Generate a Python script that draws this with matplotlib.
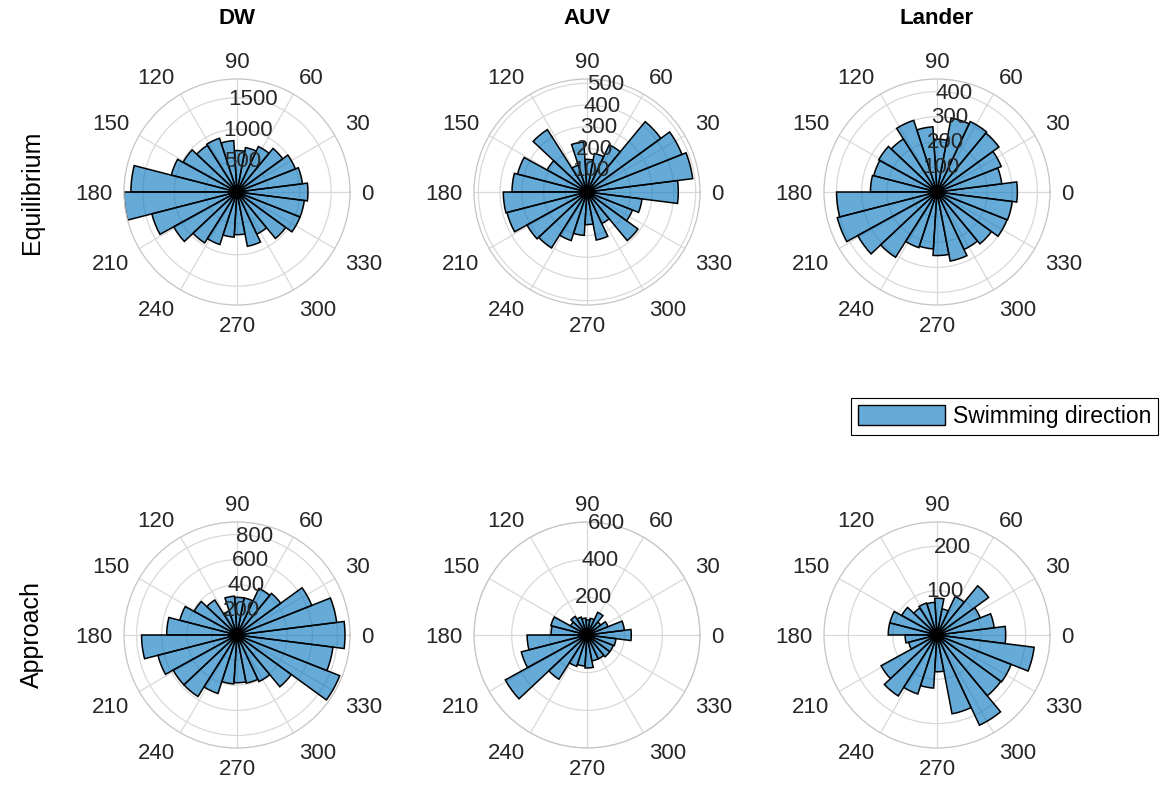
import numpy as np
import matplotlib.pyplot as plt
from matplotlib.patches import Patch

plt.rcParams['font.family'] = ['Liberation Sans', 'DejaVu Sans']

# 25 bins of 14.4 deg, centres from 0 going counter-clockwise
bin_centres = np.arange(25) * 14.4
bin_width = 14.4

columns = ['DW', 'AUV', 'Lander']
rows = ['Equilibrium', 'Approach']

dw_eq = [1130, 1050, 1000, 900, 800, 720, 660, 820, 900, 880, 980, 1080, 1690,
         1800, 1400, 1150, 960, 880, 720, 680, 880, 740, 960, 1080, 1080]
auv_eq = [420, 490, 470, 420, 240, 180, 150, 230, 130, 340, 210, 330, 345,
          385, 380, 315, 305, 235, 200, 150, 225, 160, 290, 225, 255]
lander_eq = [320, 260, 275, 305, 310, 300, 210, 260, 300, 250, 265, 260, 265,
             400, 410, 360, 308, 233, 227, 253, 280, 253, 268, 300, 302]
dw_ap = [860, 800, 640, 430, 410, 300, 300, 310, 200, 330, 390, 470, 560,
         760, 650, 580, 580, 490, 390, 380, 390, 410, 535, 880, 770]
auv_ap = [235, 200, 120, 90, 133, 90, 80, 90, 100, 117, 100, 198, 191,
          318, 360, 495, 278, 175, 165, 175, 140, 140, 150, 150, 155]
lander_ap = [155, 130, 105, 144, 96, 60, 83, 74, 76, 72, 91, 110, 110,
             72, 66, 144, 163, 140, 120, 83, 181, 225, 178, 180, 221]

counts = [[dw_eq, auv_eq, lander_eq], [dw_ap, auv_ap, lander_ap]]
r_max = [[1800, 520, 450], [900, 600, 255]]
r_ticks = [[[500, 1000, 1500], [100, 200, 300, 400, 500], [100, 200, 300, 400]],
           [[200, 400, 600, 800], [200, 400, 600], [100, 200]]]

bar_color = (0, 0.447, 0.741, 0.6)
W, H = 1173, 790
fig = plt.figure(figsize=(W / 100, H / 100), dpi=100)

centres_x = [237, 587, 937]
centres_y = [192, 635]
rad = 113

for i in range(2):
    for j in range(3):
        cx, cy = centres_x[j], centres_y[i]
        ax = fig.add_axes([(cx - rad) / W, 1 - (cy + rad) / H, 2 * rad / W, 2 * rad / H],
                          projection='polar')
        ax.bar(np.deg2rad(bin_centres), counts[i][j], width=np.deg2rad(bin_width),
               color=bar_color, edgecolor='black', linewidth=1.1)
        rm = r_max[i][j]
        ax.set_ylim(0, rm)
        ax.set_yticks(r_ticks[i][j])
        ax.set_yticklabels([])
        ax.set_xticks(np.deg2rad(np.arange(0, 360, 30)))
        ax.set_xticklabels([])
        ax.set_axisbelow(True)
        ax.grid(color='#d9d9d9', linewidth=0.9)
        ax.spines['polar'].set_color('#c4c4c4')
        ax.spines['polar'].set_linewidth(0.9)

        # radial labels along 80 deg
        for r in r_ticks[i][j]:
            ax.text(np.deg2rad(80), r, str(r), ha='center', va='center',
                    fontsize=16, color='#262626')

        # angle labels outside the ring
        for a in range(0, 360, 30):
            c, s = np.cos(np.deg2rad(a)), np.sin(np.deg2rad(a))
            ha = 'left' if c > 0.1 else ('right' if c < -0.1 else 'center')
            va = 'baseline' if s > 0.1 else ('top' if s < -0.1 else 'center_baseline')
            ax.text(np.deg2rad(a), rm * 1.10, str(a), ha=ha, va=va,
                    fontsize=16, color='#262626', clip_on=False)

        if i == 0:
            fig.text(cx / W, 1 - 18 / H, columns[j], ha='center', va='center',
                     fontsize=16, fontweight='bold')
    fig.text(32 / W, 1 - centres_y[i] / H, rows[i], rotation=90, ha='center',
             va='center', fontsize=18)

handle = Patch(facecolor=bar_color, edgecolor='black', linewidth=1.0,
               label='Swimming direction')
leg = fig.legend(handles=[handle], loc='upper right',
                 bbox_to_anchor=(1158 / W, 1 - 398 / H), fontsize=16.5,
                 fancybox=False, edgecolor='black', framealpha=1,
                 handlelength=3.8, handleheight=1.0, borderpad=0.3,
                 handletextpad=0.35, borderaxespad=0)
leg.get_frame().set_linewidth(0.8)

fig.savefig('out.png', dpi=100)
